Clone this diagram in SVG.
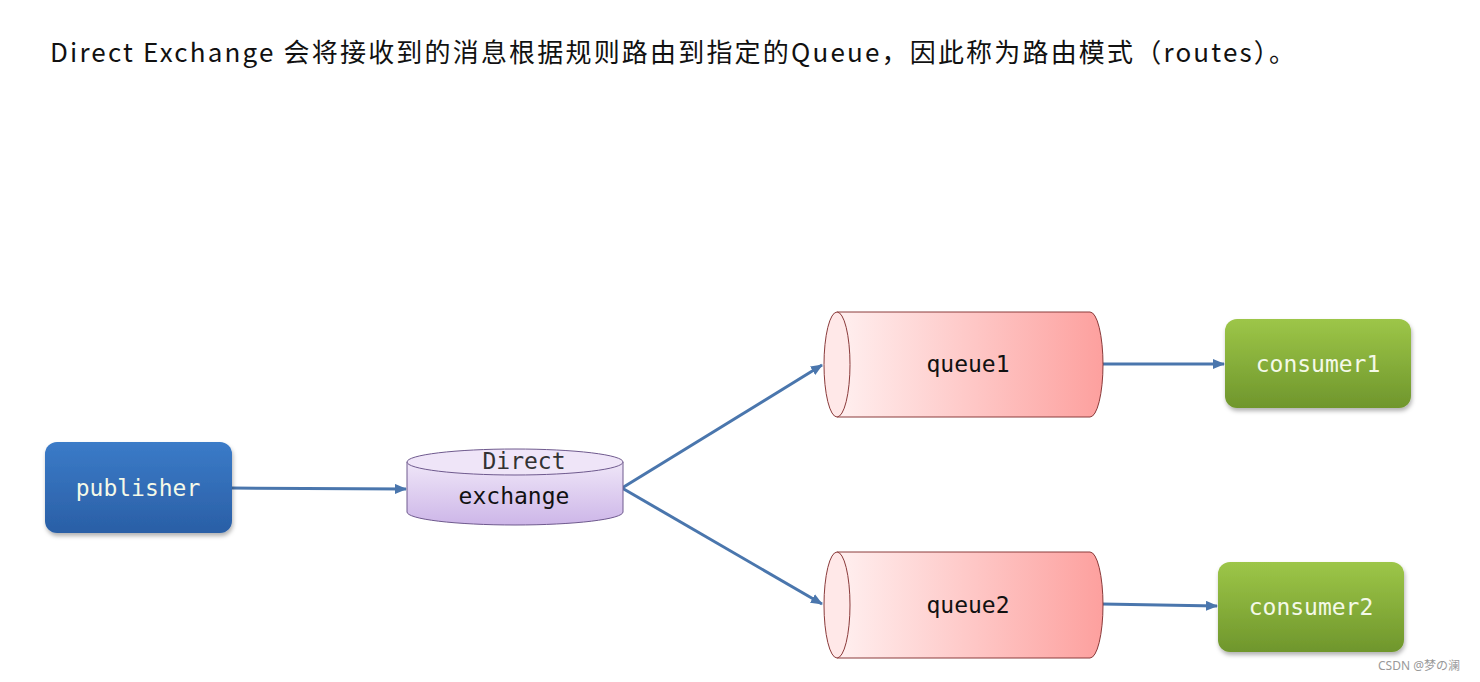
<svg xmlns="http://www.w3.org/2000/svg" width="1480" height="682" viewBox="0 0 1480 682">
<defs>
<linearGradient id="blue" x1="0" y1="0" x2="0" y2="1"><stop offset="0" stop-color="#3b7bc8"/><stop offset="1" stop-color="#2a5fa6"/></linearGradient>
<linearGradient id="green" x1="0" y1="0" x2="0" y2="1"><stop offset="0" stop-color="#9dc648"/><stop offset="1" stop-color="#6f962c"/></linearGradient>
<linearGradient id="purple" x1="0" y1="0" x2="0" y2="1"><stop offset="0" stop-color="#efe6f8"/><stop offset="1" stop-color="#cdb6e8"/></linearGradient>
<linearGradient id="red" x1="0" y1="0" x2="1" y2="0"><stop offset="0" stop-color="#fff0f0"/><stop offset="1" stop-color="#fda09e"/></linearGradient>
<marker id="arr" markerWidth="12" markerHeight="10" refX="11" refY="5" orient="auto" markerUnits="userSpaceOnUse"><path d="M0,0 L12,5 L0,10 Z" fill="#4a76ad"/></marker>
<filter id="sh" x="-10%" y="-10%" width="130%" height="140%"><feDropShadow dx="1" dy="3" stdDeviation="2" flood-opacity="0.3"/></filter>
</defs>
<style>
.mono{font-family:"DejaVu Sans Mono",monospace;font-size:23px}
.w{fill:#f4f9e8}
.c{stroke:#4a76ad;stroke-width:3;fill:none;marker-end:url(#arr)}
</style>
<rect width="1480" height="682" fill="#fff"/>
<text x="50" y="62" font-family="Noto Sans CJK SC, sans-serif" font-size="26" fill="#111" textLength="1245" lengthAdjust="spacing">Direct Exchange 会将接收到的消息根据规则路由到指定的Queue，因此称为路由模式（routes）。</text>
<g id="connectors">
<line class="c" x1="232" y1="488" x2="406" y2="489"/>
<line class="c" x1="622" y1="488" x2="822" y2="365"/>
<line class="c" x1="622" y1="488" x2="822" y2="604"/>
<line class="c" x1="1102" y1="364" x2="1224" y2="364"/>
<line class="c" x1="1102" y1="604" x2="1217" y2="606"/>
</g>
<g id="publisher"><rect x="45" y="442" width="187" height="91" rx="12" fill="url(#blue)" filter="url(#sh)"/><text class="mono w" x="138" y="496" text-anchor="middle" fill="#eef4fb">publisher</text></g>
<g id="exchange">
<path d="M407,462 L407,512 A108,13 0 0 0 623,512 L623,462" fill="url(#purple)" stroke="#6f5a8e"/>
<ellipse cx="515" cy="462" rx="108" ry="13" fill="#efe5f8" stroke="#6f5a8e"/>
<text class="mono" x="524" y="469" text-anchor="middle" font-size="20" fill="#333">Direct</text>
<text class="mono" x="514" y="504" text-anchor="middle" fill="#111">exchange</text>
</g>
<g id="queue1">
<path d="M837,312 L1090,312 A13,52.5 0 0 1 1090,417 L837,417 Z" fill="url(#red)" stroke="#8a3a3a"/>
<ellipse cx="837" cy="364.5" rx="13" ry="52.5" fill="#ffe8e8" stroke="#8a3a3a"/>
<text class="mono" x="968" y="372" text-anchor="middle" fill="#111">queue1</text>
</g>
<g id="queue2">
<path d="M837,552 L1090,552 A13,53 0 0 1 1090,658 L837,658 Z" fill="url(#red)" stroke="#8a3a3a"/>
<ellipse cx="837" cy="605" rx="13" ry="53" fill="#ffe8e8" stroke="#8a3a3a"/>
<text class="mono" x="968" y="613" text-anchor="middle" fill="#111">queue2</text>
</g>
<g id="consumer1"><rect x="1225" y="319" width="186" height="89" rx="12" fill="url(#green)" filter="url(#sh)"/><text class="mono w" x="1318" y="372" text-anchor="middle">consumer1</text></g>
<g id="consumer2"><rect x="1218" y="562" width="186" height="90" rx="12" fill="url(#green)" filter="url(#sh)"/><text class="mono w" x="1311" y="615" text-anchor="middle">consumer2</text></g>
<text x="1378" y="670" font-family="Noto Sans, Noto Sans CJK SC, sans-serif" font-size="12" fill="#999">CSDN @梦の澜</text>
</svg>
